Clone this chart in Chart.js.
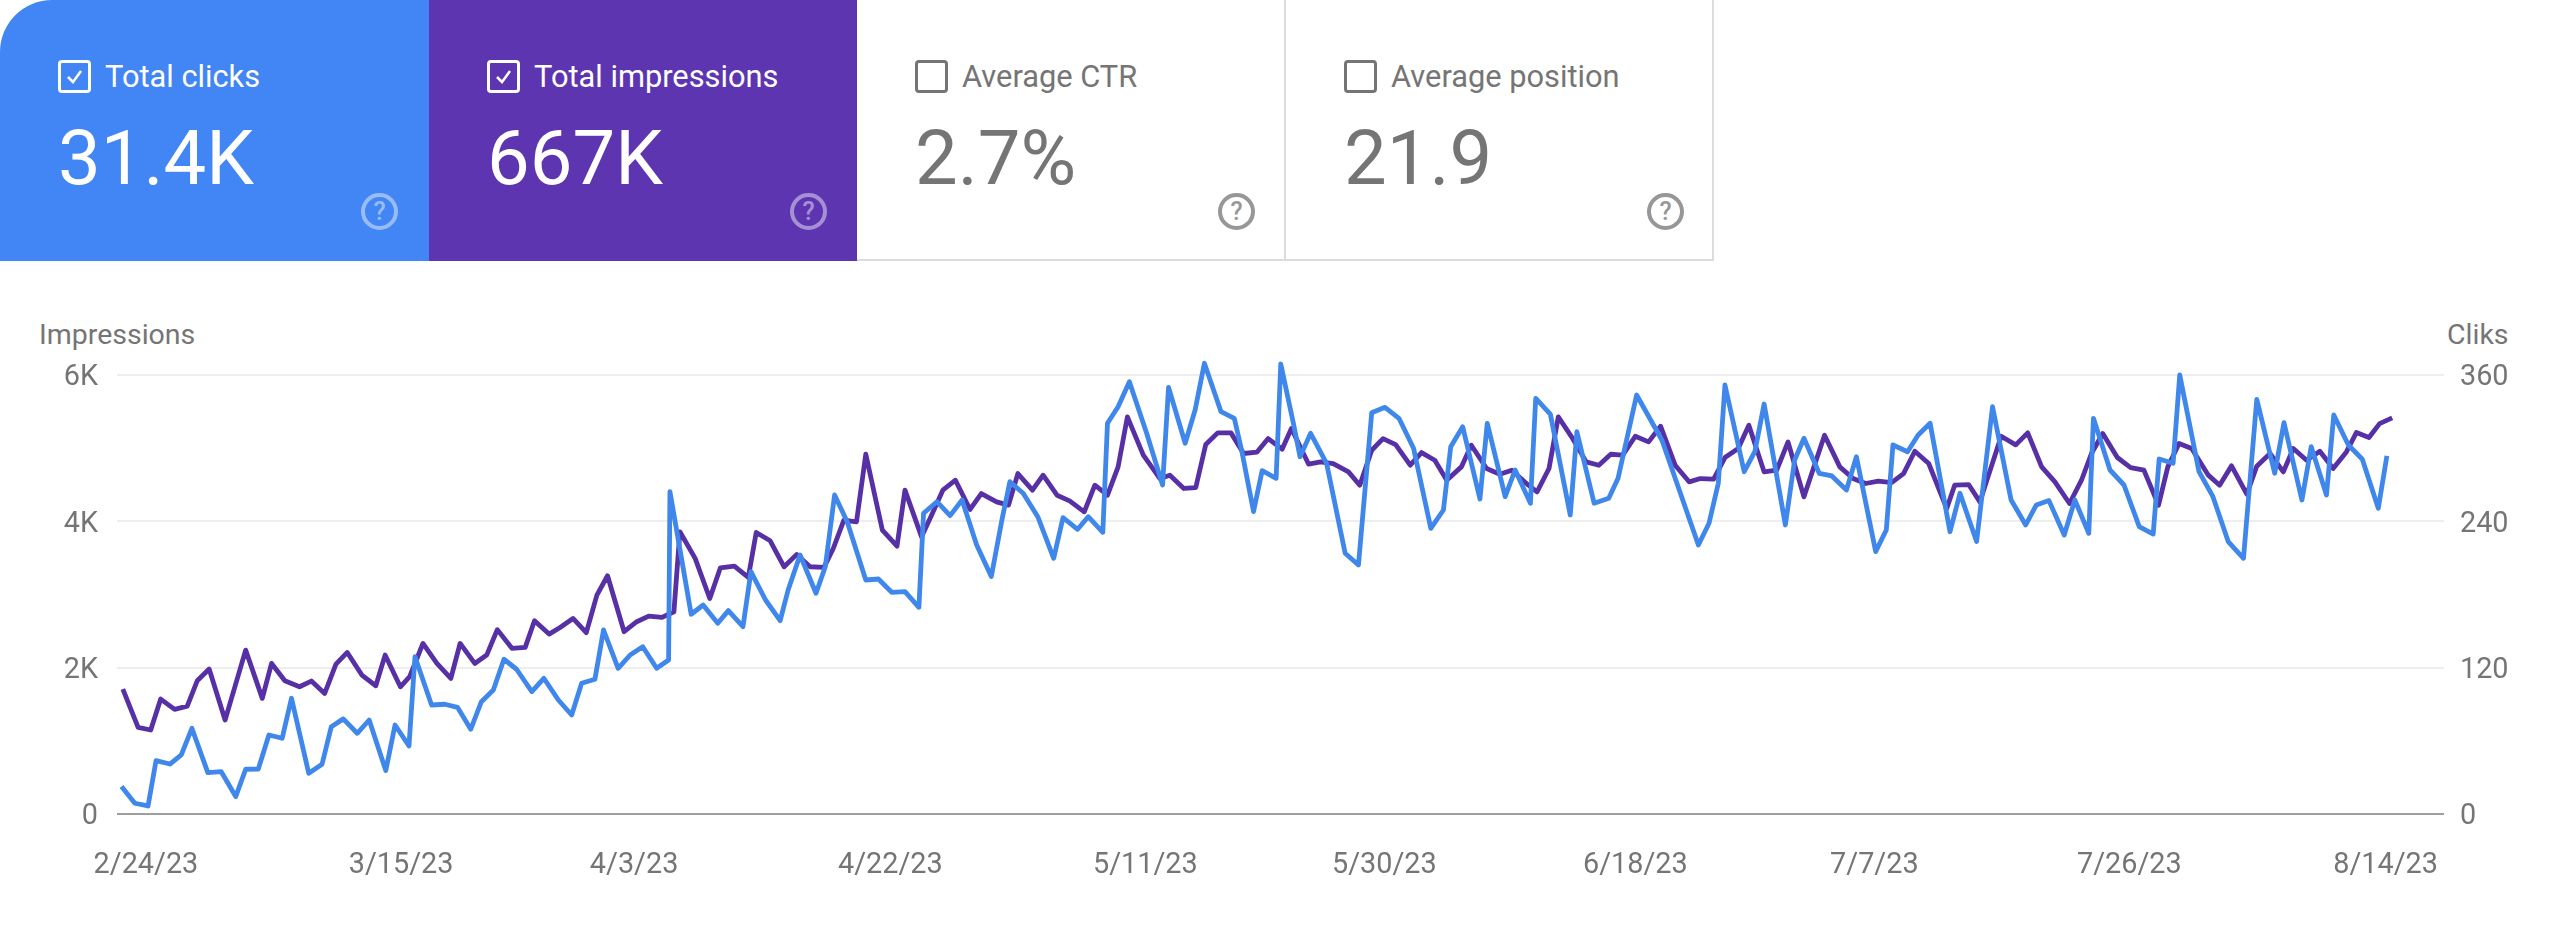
<!DOCTYPE html>
<html>
<head>
<meta charset="utf-8">
<title>Search results</title>
<script src="https://cdn.jsdelivr.net/npm/chart.js@4"></script>
<style>
    html, body { margin: 0; padding: 0; background: #fff; }
    body { position: relative; width: 2560px; height: 940px; overflow: hidden; font-family: Roboto, sans-serif; color: #757575; }
    canvas { position: absolute; left: 0; top: 0; }
    .card { position: absolute; top: 0; height: 261px; box-sizing: border-box; }
    .blue { left: 0; width: 429px; background: #4285f4; color: #fff; border-top-left-radius: 52px; }
    .purple { left: 429px; width: 428px; background: #5e35b1; color: #fff; }
    .plain { height: 261px; border-right: 2px solid #dadce0; border-bottom: 2px solid #dadce0; }
    .box { position: absolute; left: 58px; top: 60px; width: 33px; height: 33px; box-sizing: border-box; border: 3px solid currentColor; border-radius: 4px; }
    .box svg { position: absolute; left: 3px; top: 3px; }
    .name { position: absolute; left: 105px; top: 60px; font-size: 30.8px; line-height: 34px; white-space: nowrap; }
    .value { position: absolute; left: 58px; top: 112px; font-size: 76px; line-height: 92px; white-space: nowrap; }
    .help { position: absolute; left: 361px; top: 193px; width: 37px; height: 37px; box-sizing: border-box; border: 4px solid currentColor; border-radius: 50%; font-size: 25px; line-height: 29px; text-align: center; font-weight: 500; opacity: 0.45; }
    .plain .help { opacity: 0.75; }
    .axis-name { position: absolute; top: 318px; font-size: 28.5px; line-height: 34px; white-space: nowrap; }
</style>
</head>
<body>
<div class="card blue">
    <div class="box"><svg width="21" height="21" viewBox="0 0 21 21"><polyline points="4,11 9,16 17,5" fill="none" stroke="#fff" stroke-width="2.5"/></svg></div>
    <div class="name">Total clicks</div>
    <div class="value">31.4K</div>
    <div class="help">?</div>
</div>
<div class="card purple">
    <div class="box"><svg width="21" height="21" viewBox="0 0 21 21"><polyline points="4,11 9,16 17,5" fill="none" stroke="#fff" stroke-width="2.5"/></svg></div>
    <div class="name">Total impressions</div>
    <div class="value">667K</div>
    <div class="help">?</div>
</div>
<div class="card plain" style="left: 857px; width: 429px;">
    <div class="box">&nbsp;</div>
    <div class="name">Average CTR</div>
    <div class="value">2.7%</div>
    <div class="help">?</div>
</div>
<div class="card plain" style="left: 1286px; width: 428px;">
    <div class="box">&nbsp;</div>
    <div class="name">Average position</div>
    <div class="value">21.9</div>
    <div class="help">?</div>
</div>
<div class="axis-name" style="left: 39px;">Impressions</div>
<div class="axis-name" style="left: 2447px;">Cliks</div>
<canvas id="searchChart" width="2560" height="940"></canvas>
<script>
const clickDays = [
    0, 1, 2, 2.6, 3.65, 4.5, 5.3, 6.5, 7.5, 8.6, 9.35, 10.3, 11.1, 12.1, 12.8, 14.1, 15.1, 15.8, 16.7, 17.75,
    18.65, 19.9, 20.6, 21.65, 22.1, 23.35, 24.35, 25.3, 26.3, 27.1, 28, 28.8, 29.75, 30.9, 31.8, 32.9, 33.9, 34.65, 35.65, 36.3,
    37.4, 38.3, 39.25, 40.3, 41.2, 41.3, 42.9, 43.8, 44.9, 45.7, 46.8, 47.4, 48.5, 49.6, 50.2, 51.1, 52.3, 53, 53.7, 54.65,
    56.05, 57, 58, 59, 60.05, 60.4, 61.4, 62.4, 63.3, 64.4, 65.5, 66.3, 66.9, 67.9, 69, 70.2, 70.9, 72, 72.8, 73.9,
    74.25, 75.05, 75.9, 77.2, 78.4, 78.85, 80.1, 80.85, 81.55, 82.8, 83.8, 84.35, 85.25, 85.9, 86.95, 87.3, 88.25, 88.75, 89.55, 90.75,
    92.15, 93.15, 94.15, 95.15, 96.2, 97.3, 98.6, 99.55, 100.1, 101, 102.3, 102.85, 104.2, 104.95, 106.1, 106.5, 107.6, 109.1, 109.6, 110.9,
    112, 112.7, 114.1, 116, 118.75, 119.55, 120.25, 120.75, 122.2, 123, 123.7, 125.3, 126, 126.7, 127.85, 128.8, 129.9, 130.65, 132.1, 132.9,
    133.4, 134.5, 135.3, 136.2, 137.7, 138.45, 139.7, 140.9, 142.3, 143.4, 144.2, 145.15, 146.3, 147.1, 148.15, 148.5, 149.75, 150.8, 151.95, 153,
    153.45, 154.5, 155, 156.45, 157.5, 158.65, 159.8, 160.8, 162.15, 162.85, 164.2, 164.9, 166.05, 166.6, 167.7, 168.75, 169.95, 170.6
];
const clicks = [
    22.5, 8.8, 6.6, 43.8, 41, 48.4, 70.3, 33.9, 34.8, 14.3, 36.7, 36.9, 64.8, 62.1, 94.9, 33.4, 40.8, 71.6, 78, 66.2,
    77.1, 35.6, 73, 55.8, 129, 89.4, 90, 87.5, 69.5, 92.1, 101.7, 126.9, 118.7, 100.4, 111.3, 93.5, 81.2, 107.2, 110.5, 150.9,
    119.5, 130.4, 137.2, 119.5, 126.3, 264.3, 163.8, 171.4, 156.4, 166.8, 153.6, 198.7, 175.5, 158.6, 183.7, 212.4, 181, 202.8, 261.6, 239.7,
    191.9, 192.7, 181.8, 182.4, 169.5, 246.6, 256.1, 244.7, 257.5, 220.6, 194.7, 241.1, 272.5, 263, 243.8, 209.7, 243, 233.5, 243.8, 231,
    320.4, 334, 354.5, 312.2, 269.8, 349.9, 304, 331.3, 369.6, 329.9, 324.5, 298.5, 248, 281.6, 275.3, 369, 320.4, 293, 312.2, 287.6,
    213.8, 204.2, 329.1, 333.5, 324.5, 299.9, 234.3, 249.3, 301.2, 317.6, 258.3, 320.4, 260.3, 282.1, 254.8, 340.9, 328, 245.2, 313.5, 254.8,
    258.9, 275.3, 343.6, 306.7, 220.6, 238.4, 271.2, 351.8, 280.7, 297.1, 336.2, 237, 290.3, 308.1, 279.4, 277.2, 265.7, 293, 215.2, 232.9,
    302.6, 297.1, 310.8, 320.4, 231.5, 263, 223.4, 334, 257.5, 237, 253.4, 257, 228.8, 257.5, 230.2, 324.5, 282.1, 269.8, 235.7, 229.6,
    291.1, 287.6, 360, 280.7, 260.2, 223.4, 209.7, 340, 279.4, 320.9, 257.5, 301.2, 261.6, 327.2, 302.6, 290.9, 250.7, 293.6
];
const impressionDays = [
    0.1, 1.25, 2.2, 2.95, 4, 4.95, 5.7, 6.6, 7.8, 9.35, 10.6, 11.3, 12.3, 13.4, 14.3, 15.3, 16.15, 17, 18.1, 19.15,
    19.85, 21, 21.7, 22.7, 23.75, 24.8, 25.5, 26.6, 27.5, 28.3, 29.4, 30.4, 31.1, 32.2, 33, 34, 35, 35.8, 36.6, 37.85,
    38.8, 39.7, 40.7, 41.6, 42.05, 43.2, 44.3, 45.1, 46.15, 47.2, 47.8, 48.85, 49.9, 50.85, 51.85, 52.9, 53.6, 54.4, 55.35, 56.05,
    57.3, 58.4, 59, 60.25, 61, 61.85, 62.8, 63.9, 64.75, 65.9, 66.8, 67.5, 68.6, 69.4, 70.45, 71.4, 72.5, 73.3, 74.25, 75.05,
    75.75, 76.95, 78.2, 78.95, 80, 80.9, 81.65, 82.55, 83.55, 84.5, 85.5, 86.35, 87.4, 88.1, 89.4, 90.3, 91.25, 92.4, 93.25, 94.15,
    95, 95.95, 97.05, 97.9, 98.9, 99.8, 100.9, 101.65, 102.8, 103.8, 104.7, 105.95, 106.6, 107.5, 108.2, 109.2, 110.3, 111.25, 112.15, 113.05,
    114, 115, 115.9, 117, 118.05, 118.9, 119.9, 120.75, 121.75, 122.55, 123.7, 124.65, 125.5, 126.7, 128.25, 129.4, 130.4, 131.35, 132.3, 133.3,
    134.2, 135.05, 136.1, 137.45, 138.05, 139.1, 139.95, 141.55, 142.65, 143.55, 144.6, 145.6, 146.7, 147.6, 148.35, 149.2, 150.3, 151.3, 152.3, 153.4,
    154.1, 154.95, 155.9, 157.15, 158, 158.9, 160.05, 160.8, 161.8, 162.8, 163.55, 164.55, 165.55, 166.55, 167.55, 168.3, 169.25, 170.05, 171
];
const impressions = [
    1708, 1184, 1148, 1571, 1430, 1475, 1821, 1981, 1284, 2240, 1580, 2058, 1821, 1739, 1817, 1648, 2049, 2208, 1899, 1753,
    2172, 1739, 1876, 2331, 2058, 1853, 2331, 2058, 2172, 2520, 2264, 2277, 2641, 2459, 2546, 2673, 2478, 2992, 3256, 2491,
    2628, 2705, 2687, 2764, 3857, 3493, 2946, 3365, 3388, 3233, 3848, 3734, 3379, 3548, 3379, 3370, 3629, 4016, 3994, 4918,
    3879, 3661, 4426, 3788, 4084, 4426, 4562, 4162, 4380, 4266, 4221, 4653, 4426, 4631, 4357, 4280, 4130, 4494, 4357, 4744,
    5427, 4904, 4585, 4631, 4449, 4462, 5049, 5209, 5209, 4927, 4945, 5131, 4986, 5268, 4781, 4813, 4790, 4676, 4494, 4972,
    5131, 5049, 4767, 4940, 4835, 4562, 4744, 5040, 4722, 4644, 4699, 4494, 4403, 4722, 5427, 5154, 4813, 4767, 4917, 4904,
    5163, 5086, 5300, 4767, 4540, 4585, 4576, 4872, 4995, 5314, 4676, 4699, 5086, 4335, 5177, 4744, 4585, 4517, 4549, 4530,
    4653, 4958, 4790, 4175, 4494, 4503, 4266, 5163, 5045, 5209, 4744, 4540, 4244, 4562, 4927, 5200, 4872, 4735, 4699, 4221,
    4744, 5063, 4995, 4631, 4494, 4758, 4371, 4754, 4927, 4676, 4995, 4835, 4958, 4722, 4949, 5213, 5145, 5336, 5414
];
const dateLabels = ["2/24/23", "3/15/23", "4/3/23", "4/22/23", "5/11/23", "5/30/23", "6/18/23", "7/7/23", "7/26/23", "8/14/23"];
const impressionTicks = [0, 2000, 4000, 6000];
const clickTicks = [0, 120, 240, 360];

// The labels in the picture do not sit on their own day, they are spread evenly
const dateLabelAnchors = [1.84, 21.05, 38.6, 57.9, 77.1, 95.1, 114, 132, 151.2, 170.5];

function toPoints(days, values) {
    return days.map((day, i) => ({ x: day, y: values[i] }));
}

const tickFont = { family: "Roboto, sans-serif", size: 28.8 };

new Chart(document.getElementById('searchChart').getContext('2d'), {
    type: 'line',
    data: {
        datasets: [{
            label: 'Clicks',
            data: toPoints(clickDays, clicks),
            yAxisID: 'yClicks',
            borderColor: '#3f87eb',
            borderWidth: 4.8,
            borderJoinStyle: 'round',
            pointRadius: 0,
            clip: false
        }, {
            label: 'Impressions',
            data: toPoints(impressionDays, impressions),
            yAxisID: 'yImpressions',
            borderColor: '#5730a6',
            borderWidth: 4.8,
            borderJoinStyle: 'round',
            pointRadius: 0,
            clip: false
        }]
    },
    options: {
        responsive: false,
        animation: false,
        layout: { padding: { top: 375 } },
        plugins: {
            legend: { display: false },
            tooltip: { enabled: false }
        },
        scales: {
            x: {
                type: 'linear',
                min: -0.34,
                max: 174.9,
                grid: { display: false },
                border: { display: false },
                afterBuildTicks: scale => {
                    scale.ticks = dateLabelAnchors.map(day => ({ value: day }));
                },
                afterFit: scale => { scale.height = 126; },
                ticks: {
                    autoSkip: false,
                    maxRotation: 0,
                    padding: 27,
                    color: '#757575',
                    font: tickFont,
                    callback: (value, i) => dateLabels[i]
                }
            },
            yImpressions: {
                position: 'left',
                min: 0,
                max: 6000,
                border: { display: false },
                afterBuildTicks: scale => {
                    scale.ticks = impressionTicks.map(v => ({ value: v }));
                },
                afterFit: scale => { scale.width = 117; },
                grid: {
                    drawTicks: false,
                    lineWidth: 2,
                    color: ctx => ctx.tick.value === 0 ? '#9e9e9e' : '#eeeeee'
                },
                ticks: {
                    padding: 19,
                    labelOffset: 3,
                    color: '#757575',
                    font: tickFont,
                    callback: value => value === 0 ? '0' : (value / 1000) + 'K'
                }
            },
            yClicks: {
                position: 'right',
                min: 0,
                max: 360,
                border: { display: false },
                afterBuildTicks: scale => {
                    scale.ticks = clickTicks.map(v => ({ value: v }));
                },
                afterFit: scale => { scale.width = 116; },
                grid: { display: false, drawTicks: false },
                ticks: {
                    padding: 16,
                    labelOffset: 3,
                    color: '#757575',
                    font: tickFont
                }
            }
        }
    }
});
</script>
</body>
</html>
